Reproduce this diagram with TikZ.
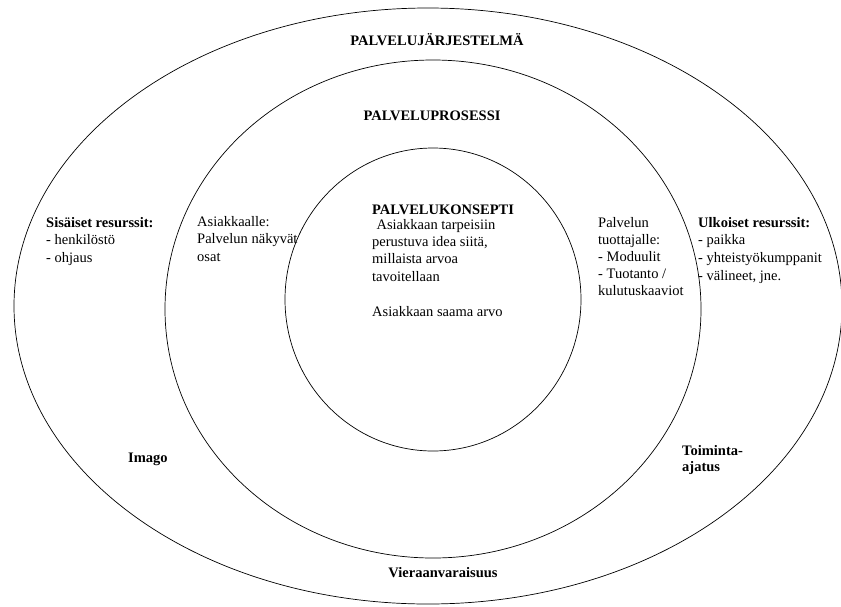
\documentclass[tikz,border=0pt]{standalone}
\usepackage{fontspec}
\setmainfont{Liberation Serif}
\usetikzlibrary{shapes.geometric,positioning}

\begin{document}
\begin{tikzpicture}[x=1pt,y=-1pt,
  every node/.append style={font=\fontsize{14.5}{17.5}\selectfont},
  kehys/.style={draw, ellipse, inner sep=0pt, line width=0.7pt},
  rivi/.style={anchor=base west, inner sep=0pt},
  lihava/.style={rivi, font=\fontsize{14.5}{17.5}\selectfont\bfseries}]
\useasboundingbox (0,0) rectangle (841,606);

% kolme sisakkaista kehaa
\node[kehys, minimum width=828pt, minimum height=596pt] (jarjestelma) at (428,306) {};
\node[kehys, minimum width=536pt, minimum height=498pt] (prosessi) at (433,309) {};
\node[kehys, minimum width=296pt, minimum height=303pt] (konsepti) at (433,299.5) {};

\node[lihava, anchor=base] (t-jarj) at (437,45) {PALVELUJÄRJESTELMÄ};
\node[lihava, anchor=base] (t-pros) at (432,120) {PALVELUPROSESSI};

% vasen puoli
\node[lihava] (sis-0) at (46,227) {Sisäiset resurssit:};
\foreach \r [count=\i] in {- henkilöstö, - ohjaus}
  \node[rivi] (sis-\i) at (46,227+17.5*\i) {\r};
\foreach \r [count=\i from 0] in {Asiakkaalle:, Palvelun näkyvät, osat}
  \node[rivi] (asiak-\i) at (197,226+17.5*\i) {\r};

% keskusta
\node[lihava] (kons-0) at (372,214) {PALVELUKONSEPTI};
\foreach \r/\y [count=\i] in {{\hspace*{0.3em}Asiakkaan tarpeisiin}/229, {perustuva idea siitä,}/246,
    {millaista arvoa}/263, {tavoitellaan}/281, {Asiakkaan saama arvo}/316}
  \node[rivi] (kons-\i) at (372,\y) {\r};

% oikea puoli
\foreach \r [count=\i from 0] in {Palvelun, tuottajalle:, - Moduulit, - Tuotanto /, kulutuskaaviot}
  \node[rivi] (tuot-\i) at (598,227+17.2*\i) {\r};
\node[lihava] (ulk-0) at (698,227) {Ulkoiset resurssit:};
\foreach \r [count=\i] in {- paikka, - yhteistyökumppanit, {- välineet, jne.}}
  \node[rivi] (ulk-\i) at (698,227+17.7*\i) {\r};

% alaosa
\node[lihava] (imago) at (128,462) {Imago};
\node[lihava] (toim-1) at (682,455) {Toiminta-};
\node[lihava] (toim-2) at (682,471) {ajatus};
\node[lihava, anchor=base] (vieras) at (443,577) {Vieraanvaraisuus};
\end{tikzpicture}
\end{document}
